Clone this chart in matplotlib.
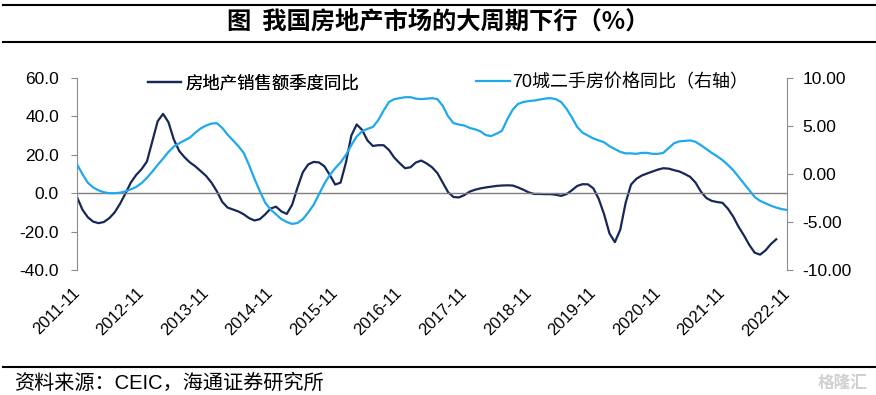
import numpy as np
import matplotlib
matplotlib.use('Agg')
import matplotlib.pyplot as plt
from matplotlib.lines import Line2D
from matplotlib.ticker import FormatStrFormatter

plt.rcParams['font.family'] = ['Liberation Sans', 'Noto Sans CJK SC']

# 月度数据，2011-11 起
tick_labels = ['2011-11', '2012-11', '2013-11', '2014-11', '2015-11', '2016-11',
               '2017-11', '2018-11', '2019-11', '2020-11', '2021-11', '2022-11']

# 房地产销售额季度同比（左轴，%）
sales_yoy = [
    -2, -8.5, -12.5, -14.8, -15.6, -15, -13, -10, -5.5, -0.2,
    5.5, 9.5, 12.5, 16.5, 27, 37.5, 41.3, 37, 28, 22,
    18.7, 16, 14, 11.5, 9, 5.5, 1, -4.5, -7.5, -8.5,
    -9.5, -11, -13, -14.2, -13.5, -11, -8, -7, -9.5, -10.8,
    -6, 3, 11, 15, 16.3, 16, 14, 9.5, 4.5, 5.5,
    16, 30, 35.8, 33, 27.5, 24.6, 25, 25, 22.5, 18.5,
    15.6, 13, 13.5, 16, 17, 15.5, 13.5, 10.5, 5.5, 0.5,
    -2, -2.2, -1, 0.8, 1.8, 2.5, 3, 3.4, 3.8, 4,
    4.1, 4, 3, 1.8, 0.4, -0.4, -0.4, -0.5, -0.5, -0.8,
    -1.4, -0.5, 1.5, 3.8, 4.7, 4.6, 2.5, -3, -11, -21,
    -25.5, -19, -5, 4.5, 7.5, 9.2, 10.3, 11.3, 12.3, 13,
    12.8, 12, 11.3, 10, 8.5, 5.5, 0.8, -2.5, -4, -4.6,
    -5, -8, -12.2, -17.5, -22, -27, -31, -32, -29.8, -26.5,
    -24,
]

# 70城二手房价格同比（右轴，%）
price_yoy = [
    1.0, 0.0, -0.9, -1.4, -1.7, -1.9, -2.0, -2.0, -1.95, -1.8,
    -1.6, -1.35, -0.95, -0.4, 0.25, 0.95, 1.6, 2.3, 2.85, 3.2,
    3.5, 3.8, 4.3, 4.75, 5.05, 5.25, 5.3, 4.8, 4.1, 3.5,
    2.9, 2.2, 0.9, -0.5, -1.8, -3.0, -3.7, -4.2, -4.7, -5.0,
    -5.2, -5.1, -4.7, -4.0, -3.2, -2.1, -1.0, -0.1, 0.6, 1.2,
    2.0, 3.0, 3.9, 4.45, 4.7, 4.9, 5.6, 6.6, 7.5, 7.8,
    7.9, 8.0, 8.0, 7.85, 7.8, 7.85, 7.9, 7.8, 7.1, 6.0,
    5.3, 5.15, 5.05, 4.8, 4.65, 4.45, 4.05, 3.95, 4.2, 4.5,
    5.7, 6.7, 7.3, 7.5, 7.6, 7.65, 7.75, 7.85, 7.9, 7.8,
    7.5, 6.8, 5.9, 4.9, 4.3, 4.0, 3.7, 3.5, 3.3, 2.9,
    2.6, 2.3, 2.15, 2.15, 2.1, 2.2, 2.2, 2.1, 2.1, 2.2,
    2.7, 3.2, 3.4, 3.45, 3.5, 3.35, 3.0, 2.6, 2.2, 1.85,
    1.45, 0.95, 0.4, -0.3, -1.0, -1.7, -2.4, -2.8, -3.05, -3.3,
    -3.5, -3.65, -3.75,
]

navy = '#172858'
blue = '#1FA9EC'
gray = '#8C8C8C'

fig = plt.figure(figsize=(8.76, 3.95), dpi=100)
ax = fig.add_axes([77 / 876, 125 / 395, 710 / 876, 192 / 395])
ax2 = ax.twinx()

l1, = ax.plot(np.arange(len(sales_yoy)), sales_yoy, color=navy, lw=1.6)
l2, = ax2.plot(np.arange(len(price_yoy)), price_yoy, color=blue, lw=1.6)
ax.axhline(0, color='#7F7F7F', lw=1)

ax.set_xlim(0, 132)
ax.set_ylim(-40, 60)
ax.set_yticks(range(-40, 61, 20))
ax.yaxis.set_major_formatter(FormatStrFormatter('%.1f'))
ax2.set_ylim(-10, 10)
ax2.set_yticks(range(-10, 11, 5))
ax2.yaxis.set_major_formatter(FormatStrFormatter('%.2f'))

ax.set_xticks(range(0, 133, 12))
ax.set_xticklabels(tick_labels, rotation=45, ha='right', va='center',
                   rotation_mode='anchor')

for a in (ax, ax2):
    a.spines['top'].set_visible(False)
    a.spines['bottom'].set_visible(False)
ax.spines['right'].set_visible(False)
ax2.spines['left'].set_visible(False)
ax.spines['left'].set_color(gray)
ax2.spines['right'].set_color(gray)

ax.tick_params(axis='x', length=0, pad=15, labelsize=12)
ax.tick_params(axis='y', length=4, color=gray, pad=9, labelsize=12.5)
ax2.tick_params(axis='y', length=4, color=gray, pad=7, labelsize=12.5)

# 图例
leg1 = fig.legend([l1], ['房地产销售额季度同比'], loc='center left',
                  bbox_to_anchor=(148 / 876, 1 - 83 / 395), frameon=False,
                  fontsize=12.5, handlelength=1.9, handletextpad=0.25,
                  borderpad=0, borderaxespad=0)
fig.legend([l2], ['70城二手房价格同比（右轴）'], loc='center left',
           bbox_to_anchor=(476 / 876, 1 - 83 / 395), frameon=False,
           fontsize=13, handlelength=1.9, handletextpad=0.1,
           borderpad=0, borderaxespad=0)
fig.add_artist(leg1)

# 标题与分隔线
fig.text(0.5, 1 - 22 / 395, '图  我国房地产市场的大周期下行（%）', ha='center',
         va='center', fontsize=17.5, fontweight='bold',
         family=['Noto Sans CJK SC', 'DejaVu Sans'])
for y in (5, 42, 367):
    fig.add_artist(Line2D([0.003, 1], [1 - y / 395] * 2, color='black', lw=1.5,
                          transform=fig.transFigure))

fig.text(14 / 876, 1 - 383 / 395, '资料来源：CEIC，海通证券研究所', ha='left',
         va='center', fontsize=14.5)
fig.text(868 / 876, 1 - 383 / 395, '格隆汇', ha='right', va='center',
         fontsize=12, color='#D0D0D0', fontweight='bold')

fig.savefig('out.png', dpi=100)
